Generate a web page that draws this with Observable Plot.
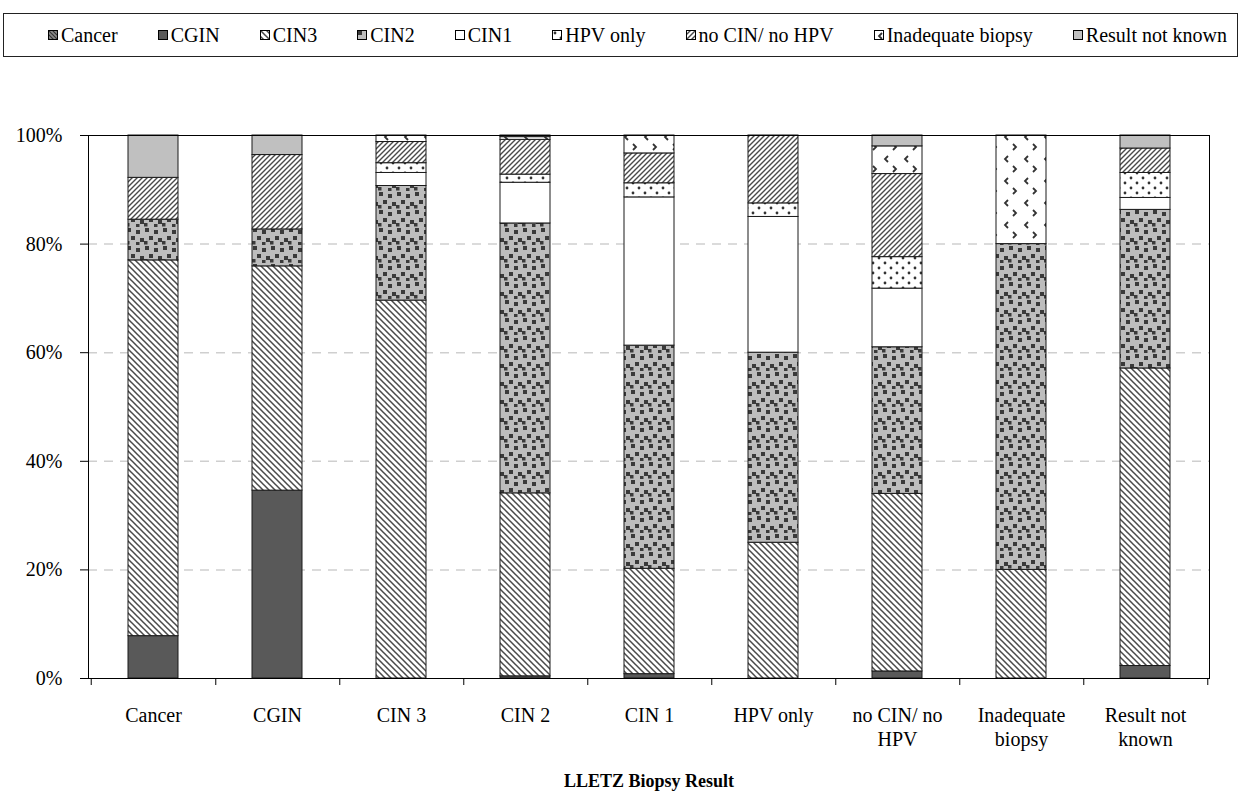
<!DOCTYPE html>
<html><head><meta charset="utf-8">
<script src="https://cdn.jsdelivr.net/npm/d3@7"></script>
<script src="https://cdn.jsdelivr.net/npm/@observablehq/plot@0.6"></script>
<style>
body{margin:0;background:#fff;font-family:"Liberation Serif","Times New Roman",serif;}
#legend{position:absolute;left:3px;top:13px;width:1235px;height:44px;border:1px solid #222;box-sizing:border-box;display:flex;align-items:center;justify-content:space-between;padding:0 10px 0 44px;font-size:20px;color:#000;font-family:"Liberation Serif","Times New Roman",serif;}
.item{display:flex;align-items:center;white-space:nowrap;}
.item svg{margin-right:2px;}
#chart{position:absolute;left:0;top:65px;}
</style></head><body>
<svg width="0" height="0" style="position:absolute"><defs>
<pattern id="p-cancer" patternUnits="userSpaceOnUse" width="4" height="4">
<rect width="4" height="4" fill="#8a8a8a"/><path d="M-1,-1 L5,5 M-1,3 L1,5 M3,-1 L5,1" stroke="#333" stroke-width="1.2"/>
</pattern>
<pattern id="p-cgin" patternUnits="userSpaceOnUse" width="4" height="4"><rect width="4" height="4" fill="#595959"/></pattern>
<pattern id="p-cin3" patternUnits="userSpaceOnUse" width="6" height="6">
<rect width="6" height="6" fill="#fff"/><path d="M-1,-1 L7,7 M-1,5 L1,7 M5,-1 L7,1" stroke="#4a4a4a" stroke-width="1.5"/>
</pattern>
<pattern id="p-cin2" patternUnits="userSpaceOnUse" width="18" height="18">
<rect width="18" height="18" fill="#bdbdbd"/>
<g fill="#3a3a3a"><rect x="1" y="1" width="4" height="4"/><rect x="10" y="3" width="4" height="4"/><rect x="5" y="9" width="4" height="4"/><rect x="14" y="11" width="4" height="4"/><rect x="0" y="14" width="3.5" height="3.5"/><rect x="10" y="15" width="3.5" height="3"/></g>
</pattern>
<pattern id="p-cin1" patternUnits="userSpaceOnUse" width="4" height="4"><rect width="4" height="4" fill="#fff"/></pattern>
<pattern id="p-hpv" patternUnits="userSpaceOnUse" width="12" height="10">
<rect width="12" height="10" fill="#fff"/><circle cx="3" cy="3" r="1.4" fill="#333"/><circle cx="9" cy="8" r="1.4" fill="#333"/>
</pattern>
<pattern id="p-nocin" patternUnits="userSpaceOnUse" width="5" height="5">
<rect width="5" height="5" fill="#fff"/><path d="M-1,6 L6,-1 M-1,1 L1,-1 M4,6 L6,4" stroke="#4a4a4a" stroke-width="1.4"/>
</pattern>
<pattern id="p-inad" patternUnits="userSpaceOnUse" width="20" height="22">
<rect width="20" height="22" fill="#fff"/><path d="M8,3 L5,6 L8,9 M13,13 L16,16 L13,19" fill="none" stroke="#333" stroke-width="1.8"/>
</pattern>
<pattern id="p-rnk" patternUnits="userSpaceOnUse" width="4" height="4"><rect width="4" height="4" fill="#c0c0c0"/></pattern>
</defs></svg>
<div id="legend"></div>
<div id="chart"></div>
<script>
// Categories (x axis) and their displayed labels
const categories = ["Cancer", "CGIN", "CIN 3", "CIN 2", "CIN 1", "HPV only", "no CIN/ no HPV", "Inadequate biopsy", "Result not known"];
const categoryLabels = ["Cancer", "CGIN", "CIN 3", "CIN 2", "CIN 1", "HPV only", "no CIN/ no\nHPV", "Inadequate\nbiopsy", "Result not\nknown"];

// Series (stack order bottom -> top), legend names
const seriesNames = ["Cancer", "CGIN", "CIN3", "CIN2", "CIN1", "HPV only", "no CIN/ no HPV", "Inadequate biopsy", "Result not known"];
const seriesPatterns = ["url(#p-cancer)", "url(#p-cgin)", "url(#p-cin3)", "url(#p-cin2)", "url(#p-cin1)", "url(#p-hpv)", "url(#p-nocin)", "url(#p-inad)", "url(#p-rnk)"];

// Percent values per category, in category order
const cancerVals = [0, 0, 0, 0, 0, 0, 0, 0, 0];
const cginVals   = [7.8, 34.6, 0, 0.4, 0.8, 0, 1.3, 0, 2.3];
const cin3Vals   = [69.2, 41.3, 69.6, 33.7, 19.4, 25.0, 32.7, 20.0, 54.8];
const cin2Vals   = [7.5, 6.8, 21.1, 49.7, 41.1, 35.0, 27.0, 60.0, 29.2];
const cin1Vals   = [0, 0, 2.4, 7.5, 27.3, 25.0, 10.8, 0, 2.2];
const hpvVals    = [0, 0, 1.8, 1.5, 2.6, 2.5, 5.8, 0, 4.6];
const nocinVals  = [7.7, 13.7, 3.9, 6.4, 5.5, 12.5, 15.3, 0, 4.5];
const inadVals   = [0, 0, 1.2, 0.5, 3.3, 0, 5.1, 20.0, 0];
const rnkVals    = [7.8, 3.6, 0, 0.3, 0, 0, 2.0, 0, 2.4];

const yTicks = [0, 20, 40, 60, 80, 100];
const gridTicks = [20, 40, 60, 80];
const xTitle = "LLETZ Biopsy Result";

const allVals = [cancerVals, cginVals, cin3Vals, cin2Vals, cin1Vals, hpvVals, nocinVals, inadVals, rnkVals];
const table = [];
seriesNames.forEach((s, si) => {
  categories.forEach((c, ci) => {
    const v = allVals[si][ci];
    if (v > 0) table.push({category: c, series: s, value: v});
  });
});
const labelMap = new Map(categories.map((c, i) => [c, categoryLabels[i]]));

// Legend
const legend = document.getElementById("legend");
seriesNames.forEach((s, i) => {
  const item = document.createElement("div");
  item.className = "item";
  item.innerHTML = `<svg width="11" height="11"><rect x="0.5" y="0.5" width="9" height="9" fill="${seriesPatterns[i]}" stroke="#000" stroke-width="1"/></svg><span>${s}</span>`;
  legend.appendChild(item);
});

const W = 1240, H = 726, mL = 88, mR = 31, mT = 70, mB = 113;
const step = (W - mL - mR) / categories.length;

const chart = Plot.plot({
  width: W, height: H,
  marginLeft: mL, marginRight: mR, marginTop: mT, marginBottom: mB,
  style: {fontFamily: '"Liberation Serif","Times New Roman",serif', fontSize: "20px", background: "#fff", color: "#000"},
  x: {domain: categories, paddingInner: 0.6, paddingOuter: 0.3, label: null},
  y: {domain: [0, 100], label: null},
  color: {type: "ordinal", domain: seriesNames, range: seriesPatterns},
  marks: [
    Plot.ruleY(gridTicks, {stroke: "#cfcfcf", strokeWidth: 1.5, strokeDasharray: "9,7"}),
    Plot.barY(table, {x: "category", y: "value", fill: "series", stroke: "#1a1a1a", strokeWidth: 1, inset: 0, order: seriesNames}),
    Plot.frame({stroke: "#000", strokeWidth: 1}),
    Plot.axisY({ticks: yTicks, tickFormat: d => d + "%", tickSize: 8, tickPadding: 18, fontSize: 20, label: null}),
    Plot.axisX({tickSize: 0, tickPadding: 26, tickFormat: d => labelMap.get(d), fontSize: 20, lineHeight: 1.2, label: null}),
    Plot.axisX({tickSize: 7, tickFormat: () => "", dx: step / 2, label: null}),
    Plot.axisX({ticks: [categories[0]], tickSize: 7, tickFormat: () => "", dx: -step / 2, label: null}),
    Plot.text([xTitle], {frameAnchor: "bottom", text: d => d, dy: 103, lineAnchor: "middle", fontWeight: "bold", fontSize: 18})
  ]
});
document.getElementById("chart").appendChild(chart);
</script>
</body></html>
